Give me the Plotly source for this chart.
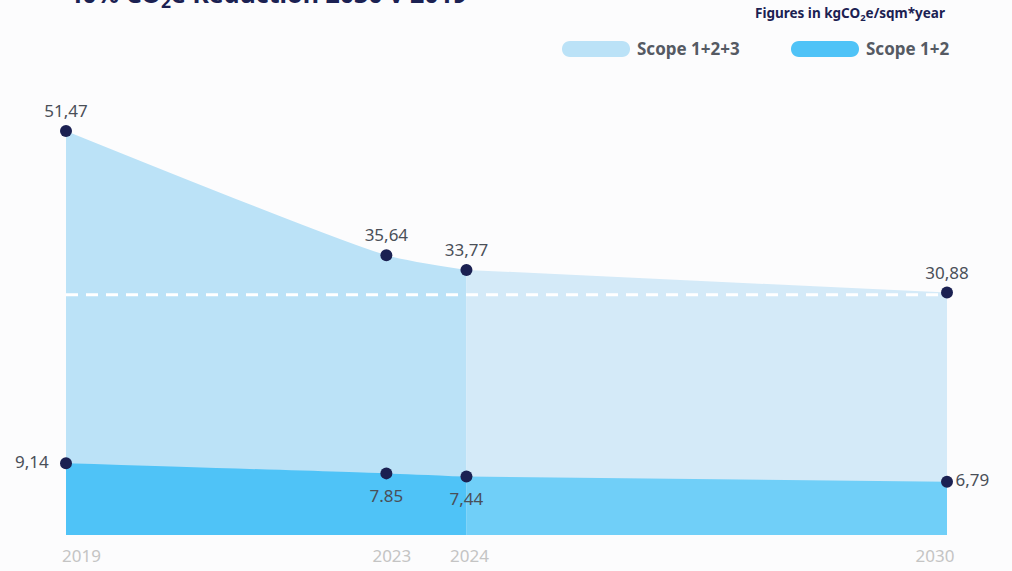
import plotly.graph_objects as go

# ---- data ----
years_hist = [2019, 2023, 2024]
years_proj = [2024, 2030]
scope123_hist = [51.47, 35.64, 33.77]
scope123_proj = [33.77, 30.88]
scope12_hist = [9.14, 7.85, 7.44]
scope12_proj = [7.44, 6.79]
target_value = 30.6

point_years = [2019, 2023, 2024, 2030, 2019, 2023, 2024, 2030]
point_values = [51.47, 35.64, 33.77, 30.88, 9.14, 7.85, 7.44, 6.79]
point_labels = ["51,47", "35,64", "33,77", "30,88", "9,14", "7.85", "7,44", "6,79"]
point_positions = ["top center", "top center", "top center", "top center",
                   "middle left", "bottom center", "bottom center", "middle right"]

tick_years = [2019, 2023, 2024, 2030]
tick_labels = ["2019", "2023", "2024", "2030"]

# ---- layout geometry ----
W, H = 1012, 571
ML, MR, MT, MB = 66, 65, 100, 36
PW = W - ML - MR
PH = H - MT - MB


def px_x(px):
    return (px - ML) / PW


def px_y(py):
    return (H - MB - py) / PH


FONT = "Noto Sans"
NAVY = "#1b2152"

fig = go.Figure()

fig.add_trace(go.Scatter(x=years_hist, y=scope123_hist, mode="lines", line=dict(width=0, shape="spline", smoothing=0.6),
                         fill="tozeroy", fillcolor="#bbe2f7", hoverinfo="skip", showlegend=False))
fig.add_trace(go.Scatter(x=years_proj, y=scope123_proj, mode="lines", line=dict(width=0),
                         fill="tozeroy", fillcolor="#d4eaf8", hoverinfo="skip", showlegend=False))
fig.add_trace(go.Scatter(x=years_hist, y=scope12_hist, mode="lines", line=dict(width=0, shape="spline", smoothing=0.6),
                         fill="tozeroy", fillcolor="#4fc3f7", hoverinfo="skip", showlegend=False))
fig.add_trace(go.Scatter(x=years_proj, y=scope12_proj, mode="lines", line=dict(width=0),
                         fill="tozeroy", fillcolor="#70cff8", hoverinfo="skip", showlegend=False))

# target dashed line
fig.add_trace(go.Scatter(x=[tick_years[0], tick_years[-1]], y=[target_value, target_value], mode="lines",
                         line=dict(color="white", width=3, dash="12px,8px"), hoverinfo="skip", showlegend=False))

# value labels (invisible markers of varying size control the label offset)
label_offsets = {"top center": 14, "middle left": 26, "bottom center": 24, "middle right": 12}
fig.add_trace(go.Scatter(x=point_years, y=point_values, mode="markers+text",
                         marker=dict(color="rgba(0,0,0,0)", opacity=0, line=dict(width=0),
                                     size=[label_offsets[p] for p in point_positions]),
                         text=point_labels, textposition=point_positions,
                         textfont=dict(family=FONT, size=17, color="#4a4f58"),
                         cliponaxis=False, hoverinfo="skip", showlegend=False))

# dots
fig.add_trace(go.Scatter(x=point_years, y=point_values, mode="markers",
                         marker=dict(color=NAVY, size=12, line=dict(width=0)),
                         cliponaxis=False, hoverinfo="skip", showlegend=False))

# invisible trace carrying the tick-label axis
fig.add_trace(go.Scatter(x=tick_years, y=[0] * len(tick_years), mode="markers",
                         marker=dict(opacity=0, line=dict(width=0)),
                         xaxis="x2", hoverinfo="skip", showlegend=False))


def pill(px_left, py_center, color):
    path = ("M 8,-8 L 60,-8 C 70.67,-8 70.67,8 60,8 L 8,8 C -2.67,8 -2.67,-8 8,-8 Z")
    return dict(type="path", xref="paper", yref="paper", xsizemode="pixel", ysizemode="pixel",
                xanchor=px_x(px_left), yanchor=px_y(py_center), path=path,
                fillcolor=color, line=dict(width=0), layer="above")


shapes = [pill(562, 49, "#bbe2f7"), pill(791, 49, "#4fc3f7")]

annotations = [
    dict(text="-40% CO<sub>2</sub>e Reduction 2030 v 2019", xref="paper", yref="paper",
         x=px_x(58), y=px_y(15), xanchor="left", yanchor="bottom", showarrow=False,
         font=dict(family=FONT, size=25, color=NAVY, weight="bold")),
    dict(text="Figures in kgCO<sub>2</sub>e/sqm*year", xref="paper", yref="paper",
         x=px_x(947), y=px_y(14), xanchor="right", yanchor="middle", showarrow=False,
         font=dict(family=FONT, size=13.5, color=NAVY, weight="bold")),
    dict(text="Scope 1+2+3", xref="paper", yref="paper",
         x=px_x(635), y=px_y(49), xanchor="left", yanchor="middle", showarrow=False,
         font=dict(family=FONT, size=17, color="#555a63", weight="bold")),
    dict(text="Scope 1+2", xref="paper", yref="paper",
         x=px_x(864), y=px_y(49), xanchor="left", yanchor="middle", showarrow=False,
         font=dict(family=FONT, size=17, color="#555a63", weight="bold")),
]

px_per_year = 77.6
fig.update_layout(
    width=W, height=H,
    margin=dict(l=ML, r=MR, t=MT, b=MB),
    paper_bgcolor="#fcfcfd", plot_bgcolor="#fcfcfd",
    shapes=shapes, annotations=annotations,
    xaxis=dict(range=[tick_years[0], tick_years[-1]], showticklabels=False, automargin=False,
               showgrid=False, zeroline=False, showline=False, ticks=""),
    xaxis2=dict(overlaying="x", side="bottom", automargin=False,
                range=[tick_years[0] - 15.5 / px_per_year, tick_years[-1] + 12 / px_per_year],
                tickvals=tick_years, ticktext=tick_labels,
                showgrid=False, zeroline=False, showline=False, ticks="",
                tickfont=dict(family=FONT, size=17, color="#c4c4c4"), ticklabelstandoff=9),
    yaxis=dict(range=[0, PH / 7.85], visible=False, showgrid=False, zeroline=False, automargin=False),
    font=dict(family=FONT),
)

fig.write_html("out.html")
